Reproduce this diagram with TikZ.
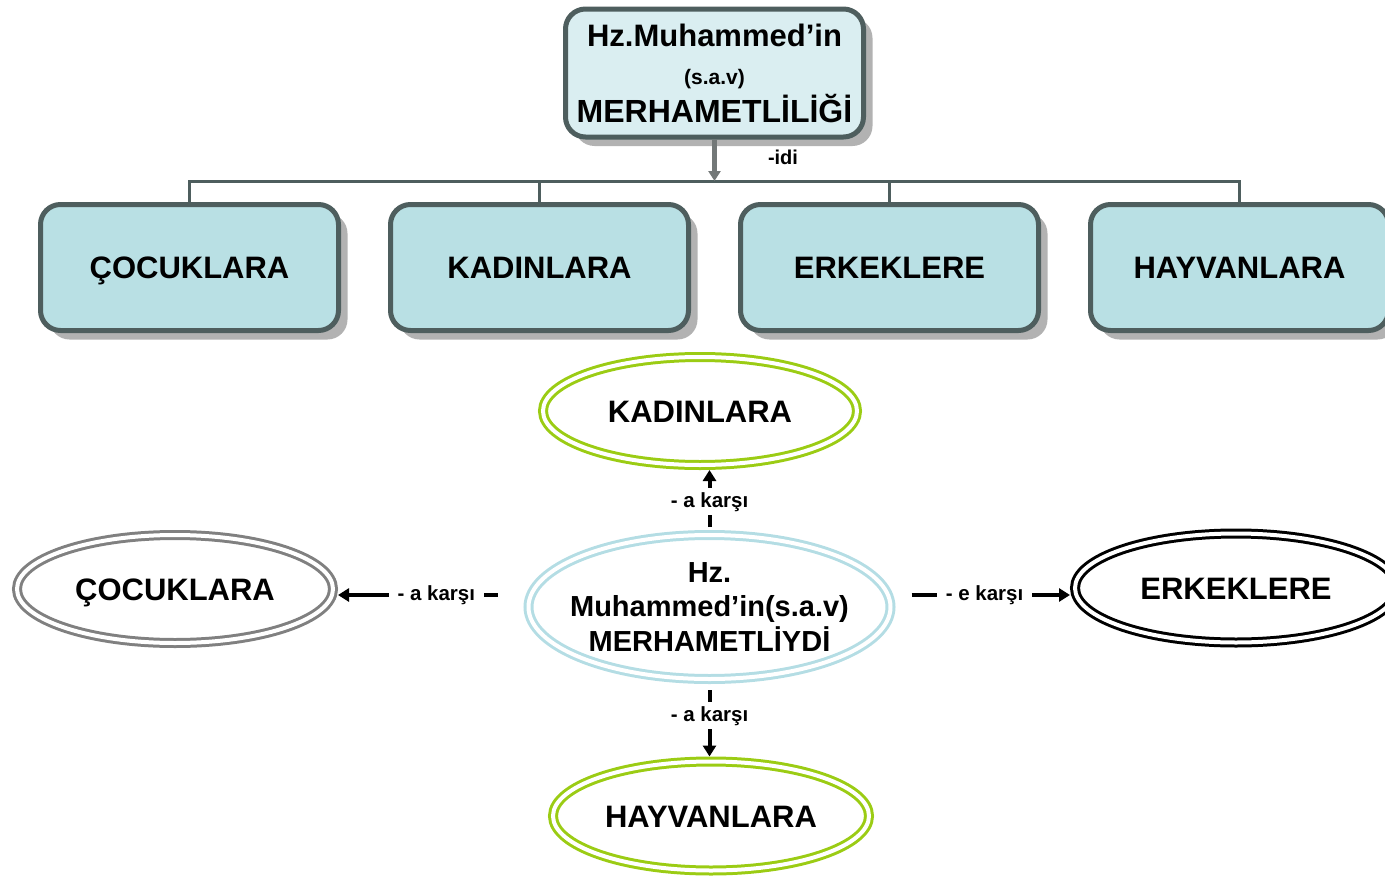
\documentclass[tikz,border=0pt]{standalone}
\usepackage{fontspec}
\setmainfont{Liberation Sans}
\usepackage{tikz}
\usetikzlibrary{shapes.geometric,arrows.meta,shadows}

\definecolor{boxline}{RGB}{78,94,94}
\definecolor{boxfill}{RGB}{185,224,228}
\definecolor{topfill}{RGB}{218,238,241}
\definecolor{leafgreen}{RGB}{155,204,20}
\definecolor{paleblue}{RGB}{180,221,228}
\definecolor{ringgray}{RGB}{128,128,128}
\definecolor{stemgray}{RGB}{115,120,120}

\begin{document}
\begin{tikzpicture}[x=1pt,y=-1pt,
	box/.style={draw=boxline, line width=5pt, fill=boxfill, rounded corners=20pt, minimum width=298pt, minimum height=126pt, align=center, font=\bfseries\fontsize{31}{38}\selectfont, drop shadow={shadow xshift=9pt, shadow yshift=-9pt, fill=black!30, opacity=1}},
	word/.style={text height=22pt, text depth=0pt},
	ring/.style={ellipse, draw=#1, line width=3pt, double=white, double distance=4pt, inner sep=0pt, outer sep=5pt, word, font=\bfseries\fontsize{31}{37}\selectfont},
	karsi/.style={fill=white, inner xsep=9pt, inner ysep=4pt, font=\bfseries\fontsize{20.5}{24}\selectfont},
	link/.style={line width=4pt, -{Triangle[length=11pt,width=13pt]}},
	tree/.style={draw=boxline, line width=3pt},
	]
	%\draw[help lines] (0,0) grid[step=50] (1385,878);
	\path[use as bounding box] (0,0) rectangle (1385,878);
	\clip (0,0) rectangle (1385,878);

	% upper tree
	\node[box, fill=topfill, minimum height=128pt] (kaynak) at (714.5,73) {Hz.Muhammed’in\\{\fontsize{21}{38}\selectfont (s.a.v)}\\{\fontsize{32}{38}\selectfont MERHAMETLİLİĞİ}};
	\node[box, word] (cocuk) at (189.5,267.5) {ÇOCUKLARA};
	\node[box, word] (kadin) at (539.5,267.5) {KADINLARA};
	\node[box, word] (erkek) at (889.5,267.5) {ERKEKLERE};
	\node[box, word] (hayvan) at (1239.5,267.5) {HAYVANLARA};

	\coordinate (bus) at (714.5,181);
	\draw[tree] (cocuk.north) |- (bus) -| (hayvan.north);
	\foreach \k in {kadin,erkek}
		\draw[tree] (\k.north) -- (\k.north |- bus);
	\draw[stemgray, line width=5pt, -{Triangle[length=10pt,width=12pt]}] (kaynak.south) -- (bus);
	\node[font=\bfseries\fontsize{20}{24}\selectfont] (idi) at (783,157) {-idi};

	% lower star
	\node[ring=paleblue, minimum width=362pt, minimum height=144pt, text height=, text depth=, label={[align=center, font=\bfseries\fontsize{29}{34.5}\selectfont]center:Hz.\\Muhammed’in(s.a.v)\\MERHAMETLİYDİ}] (merkez) at (709.5,607) {};
	\node[ring=leafgreen, minimum width=314pt, minimum height=108pt] (rkadin) at (700,411) {KADINLARA};
	\node[ring=ringgray, minimum width=316pt, minimum height=108pt] (rcocuk) at (175,589) {ÇOCUKLARA};
	\node[ring=black, minimum width=322pt, minimum height=109pt] (rerkek) at (1236,588) {ERKEKLERE};
	\node[ring=leafgreen, minimum width=316pt, minimum height=109pt] (rhayvan) at (711,816) {HAYVANLARA};

	\draw[link, shorten <=3pt] (merkez.north) -- node[karsi, pos=0.47] {- a karşı} (merkez.north |- rkadin.south);
	\draw[link, shorten <=26pt] ([yshift=12pt]merkez.west) -- node[karsi, pos=0.47] {- a karşı} ([yshift=-6pt]rcocuk.east);
	\draw[link, shorten <=16pt] ([yshift=12pt]merkez.east) -- node[karsi, pos=0.51] {- e karşı} ([yshift=-7pt]rerkek.west);
	\draw[link, shorten <=6pt] (merkez.south) -- node[karsi, pos=0.44] {- a karşı} (merkez.south |- rhayvan.north);
\end{tikzpicture}
\end{document}
